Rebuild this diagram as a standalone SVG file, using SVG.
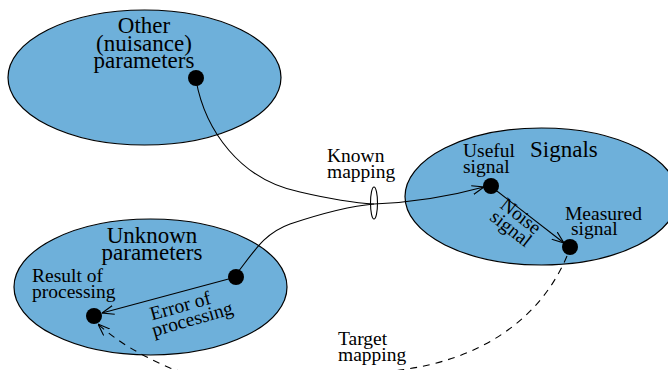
<svg xmlns="http://www.w3.org/2000/svg" width="668" height="370" viewBox="0 0 668 370">
<style>
.region{fill:#6eb0da;stroke:#000;stroke-width:1.2}
.dot{fill:#000}
.line{fill:none;stroke:#000;stroke-width:1.1}
.dash{fill:none;stroke:#000;stroke-width:1.1;stroke-dasharray:7 6}
text{font-family:'Liberation Serif','Tinos','Nimbus Roman','DejaVu Serif',serif;fill:#000}
.big{font-size:23px}
.small{font-size:19.5px}
</style>
<defs>
<marker id="arr" viewBox="0 0 12 10" refX="12" refY="5" markerWidth="12" markerHeight="10" markerUnits="userSpaceOnUse" orient="auto">
<polyline points="0,0.5 12,5 0,9.5" fill="none" stroke="#000" stroke-width="1.1"/>
</marker>
</defs>
<rect width="668" height="370" fill="#fff"/>
<g id="other">
<ellipse class="region" cx="144.5" cy="77.5" rx="136.5" ry="67.5"/>
<text class="big" text-anchor="middle" font-family="Liberation Serif, serif"><tspan x="144" y="33">Other</tspan><tspan x="144" y="51">(nuisance)</tspan><tspan x="144" y="68">parameters</tspan></text>
</g>
<g id="unknown">
<ellipse class="region" cx="150.5" cy="287" rx="136.5" ry="68"/>
<text class="big" text-anchor="middle"><tspan x="152" y="243">Unknown</tspan><tspan x="152" y="260">parameters</tspan></text>
<text class="small"><tspan x="32" y="282">Result of</tspan><tspan x="32" y="298">processing</tspan></text>
</g>
<g id="signals">
<ellipse class="region" cx="541.5" cy="196.5" rx="136.5" ry="68.5"/>
<text class="big" x="530" y="157">Signals</text>
<text class="small"><tspan x="463" y="157">Useful</tspan><tspan x="463" y="173">signal</tspan></text>
<text class="small"><tspan x="565" y="220">Measured</tspan><tspan x="571" y="235">signal</tspan></text>
</g>
<g id="connectors">
<path class="line" d="M196,80 C205,130 240,180 300,192 C330,199 355,203 374,204"/>
<path class="line" d="M238,272 C255,250 265,233 290,224 C320,214 350,206 374,204"/>
<path class="line" d="M374,204 C400,203 440,199 484,187" marker-end="url(#arr)"/>
<ellipse cx="374" cy="203" rx="3.5" ry="16" fill="none" stroke="#000" stroke-width="1.1"/>
<path class="line" d="M236,277 L102,313" marker-end="url(#arr)"/>
<path class="line" d="M493,188 L564,243" marker-end="url(#arr)"/>
<path class="dash" d="M567,256 C540,320 480,360 400,370 C300,385 200,380 170,368 C140,355 115,340 98,324" marker-end="url(#arr)"/>
</g>
<g id="dots">
<circle class="dot" cx="196" cy="78" r="8"/>
<circle class="dot" cx="236" cy="277" r="8"/>
<circle class="dot" cx="94" cy="316" r="8"/>
<circle class="dot" cx="491" cy="186" r="8"/>
<circle class="dot" cx="570" cy="247" r="8"/>
</g>
<g id="labels">
<text class="small"><tspan x="327" y="162">Known</tspan><tspan x="327" y="178">mapping</tspan></text>
<text class="small"><tspan x="338" y="345">Target</tspan><tspan x="338" y="361">mapping</tspan></text>
<g transform="translate(182,312) rotate(-16)"><text class="small" text-anchor="middle"><tspan x="0" y="0">Error of</tspan><tspan x="8" y="16">processing</tspan></text></g>
<g transform="translate(517,221) rotate(38)"><text class="small" text-anchor="middle"><tspan x="0" y="0">Noise</tspan><tspan x="0" y="16">signal</tspan></text></g>
</g>
</svg>
